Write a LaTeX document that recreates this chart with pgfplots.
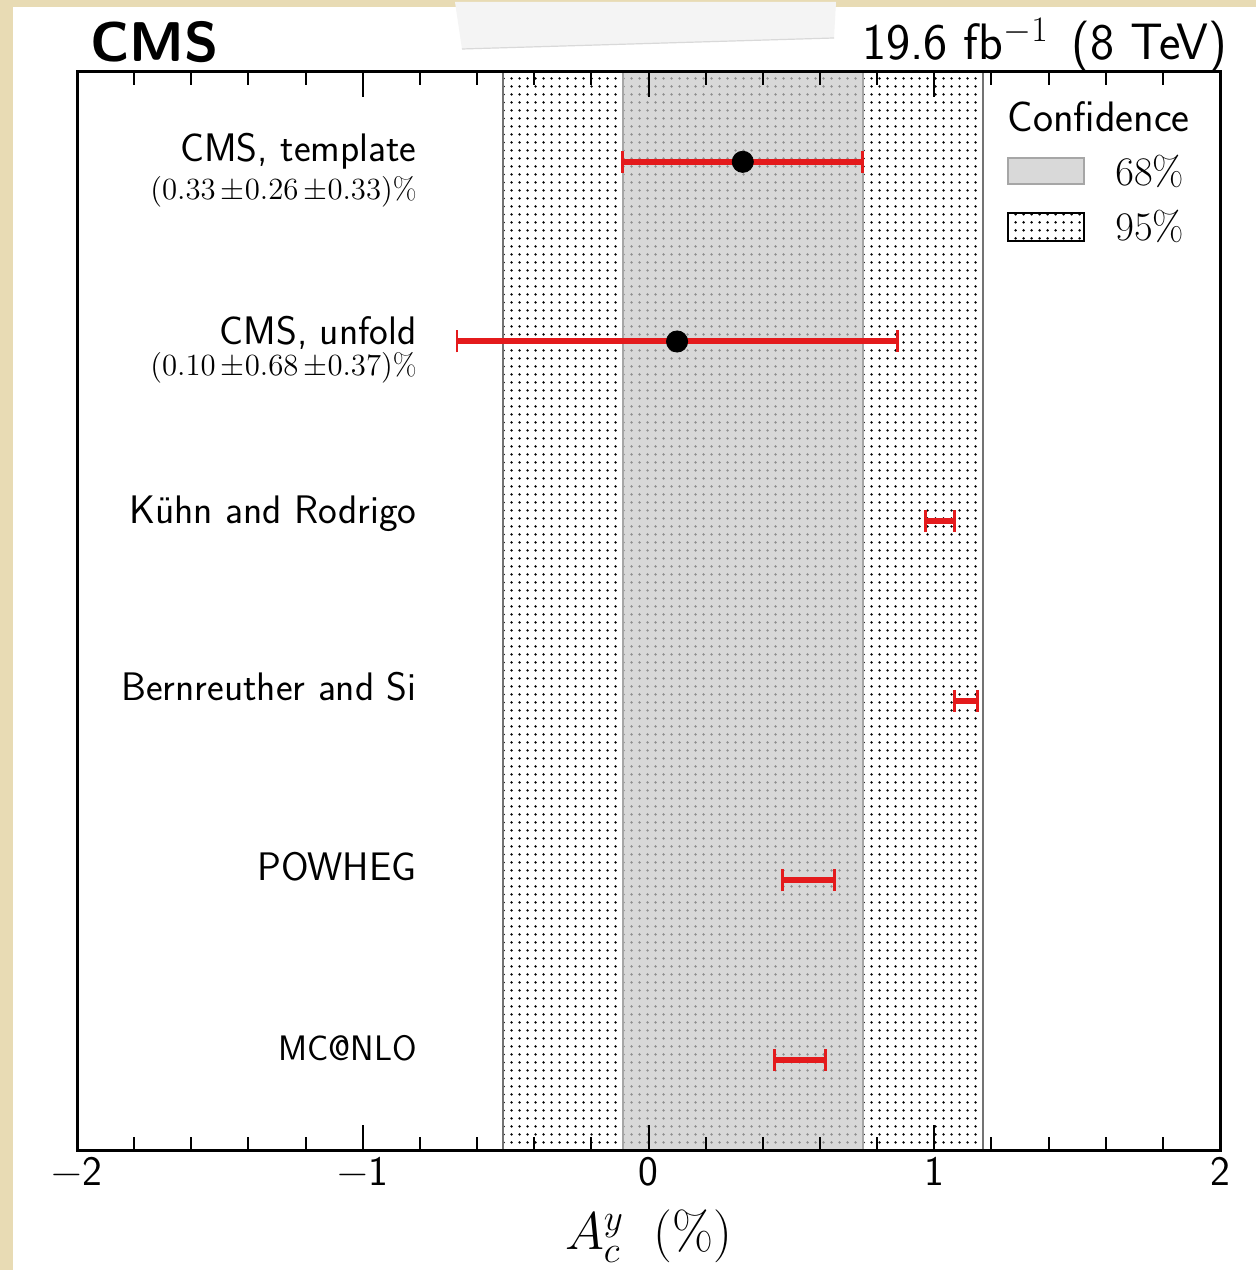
\RequirePackage{fix-cm}
\documentclass[border=0pt]{standalone}
\usepackage{fontspec}
\usepackage{pgfplots}
\pgfplotsset{compat=1.18}
\usetikzlibrary{patterns.meta}

\definecolor{paper}{RGB}{232,219,180}
\definecolor{tape}{RGB}{244,244,244}
\definecolor{barred}{RGB}{228,26,28}
\definecolor{bandgray}{RGB}{200,200,200}
\definecolor{keygray}{RGB}{217,217,217}

\newcommand{\fs}[1]{\fontsize{#1}{#1}\selectfont}

% measurements: central value, statistical and total uncertainty (in %)
\pgfplotstableread{
x    y  stat  tot
0.33 6  0.26  0.42
0.10 5  0.68  0.77
}\cmsdata

% predictions: central value and uncertainty (in %)
\pgfplotstableread{
x    y  err
1.02 4  0.05
1.11 3  0.04
0.56 2  0.09
0.53 1  0.09
}\theory

\pgfplotsset{
  hbar/.style n args={3}{barred, only marks, mark=*, mark size=0pt,
    error bars/.cd, x dir=both, x explicit, error mark=|,
    error bar style={barred, line width=#1},
    error mark options={barred, line width=#2, mark size=#3}},
}

\begin{document}
\begin{tikzpicture}
\useasboundingbox (0,0) rectangle (628pt,635pt);
% page background
\fill[paper] (0,0) rectangle (628pt,635pt);
\fill[white] (6.5pt,0) rectangle (628pt,631.5pt);
\fill[tape] (227.5pt,634pt) -- (418pt,634pt) -- (417pt,616pt) -- (231pt,610.5pt) -- cycle;
\draw[black!15, line width=0.6pt] (231pt,610.5pt) -- (417pt,616pt);

\begin{axis}[
  at={(38.5pt,60pt)}, anchor=south west,
  width=571.5pt, height=539pt, scale only axis,
  xmin=-2, xmax=2, ymin=0.5, ymax=6.5,
  xtick={-2,-1,0,1,2},
  xticklabels={−2,−1,0,1,2},
  minor x tick num=4,
  ytick=\empty,
  tick align=inside,
  major tick length=12.5pt,
  minor tick length=6.5pt,
  every tick/.style={black, line width=1pt},
  axis line style={line width=1.5pt},
  xticklabel style={font=\fs{21}\sffamily},
  axis on top,
  clip=false,
]
% 95% and 68% confidence bands
\addplot[draw=none, pattern={Dots[distance=4pt,radius=0.75pt]}, pattern color=black]
  coordinates {(-0.51,0.5) (1.17,0.5) (1.17,6.5) (-0.51,6.5)} -- cycle;
\addplot[draw=none, fill=bandgray, fill opacity=0.7]
  coordinates {(-0.09,0.5) (0.75,0.5) (0.75,6.5) (-0.09,6.5)} -- cycle;
\addplot[black!55, line width=0.9pt] coordinates {(-0.51,0.5) (-0.51,6.5)};
\addplot[black!55, line width=0.9pt] coordinates {(1.17,0.5) (1.17,6.5)};
\addplot[black!35, line width=0.9pt] coordinates {(-0.09,0.5) (-0.09,6.5)};
\addplot[black!35, line width=0.9pt] coordinates {(0.75,0.5) (0.75,6.5)};

% total uncertainty
\addplot[hbar={3pt}{1.4pt}{5.5pt}] table[x=x, y=y, x error=tot] {\cmsdata};
% statistical uncertainty: only the end ticks show over the total bar
\addplot[hbar={0.6pt}{0.8pt}{3.75pt}, error mark options={barred!70}]
  table[x=x, y=y, x error=stat] {\cmsdata};
\addplot[only marks, mark=*, mark size=5.3pt, black] table[x=x, y=y] {\cmsdata};

% predictions
\addplot[hbar={3pt}{1.4pt}{5.5pt}] table[x=x, y=y, x error=err] {\theory};

% row labels
\begin{scope}[every node/.style={anchor=base east, inner sep=0pt}]
\node[font=\fs{19.9}\sffamily] at (axis cs:-0.81,6) {CMS, template};
\node[font=\fs{15.4}] at (axis cs:-0.81,5.789) {$(0.33\,{\pm}0.26\,{\pm}0.33)\%$};
\node[font=\fs{19.9}\sffamily] at (axis cs:-0.81,4.983) {CMS, unfold};
\node[font=\fs{15.4}] at (axis cs:-0.81,4.812) {$(0.10\,{\pm}0.68\,{\pm}0.37)\%$};
\node[font=\fs{19.9}\sffamily] at (axis cs:-0.81,3.985) {Kühn and Rodrigo};
\node[font=\fs{19.9}\sffamily] at (axis cs:-0.81,3) {Bernreuther and Si};
\node[font=\fs{19.9}\sffamily] at (axis cs:-0.81,2) {POWHEG};
\node[font=\fs{17.7}\sffamily] at (axis cs:-0.81,1) {MC@NLO};
\end{scope}

% axis title
\node[anchor=base, inner sep=0pt, font=\fs{26.5}] at (axis cs:0,-0.0556) {$A_c^y\;\;(\%)$};
\end{axis}

% header
\node[anchor=base west, font=\fs{28}\sffamily\bfseries, inner sep=0pt] at (45pt,604pt) {CMS};
\node[anchor=base east, font=\fs{25.6}\sffamily, inner sep=0pt] at (614pt,605pt) {19.6 fb$^{-1}$\hspace{0.45em}(8 TeV)};

% legend
\node[anchor=base west, font=\fs{21.3}\sffamily, inner sep=0pt] at (503.5pt,569pt) {Confidence};
\filldraw[fill=keygray, draw=black!35, line width=0.8pt] (504pt,543pt) rectangle (542pt,556pt);
\filldraw[pattern={Dots[distance=4pt,radius=0.75pt]}, pattern color=black, draw=black, line width=0.8pt] (504pt,514.5pt) rectangle (542pt,528.5pt);
\node[anchor=base west, font=\fs{20.3}, inner sep=0pt] at (557.5pt,542pt) {$68\%$};
\node[anchor=base west, font=\fs{20.3}, inner sep=0pt] at (557.5pt,514.5pt) {$95\%$};
\end{tikzpicture}
\end{document}
